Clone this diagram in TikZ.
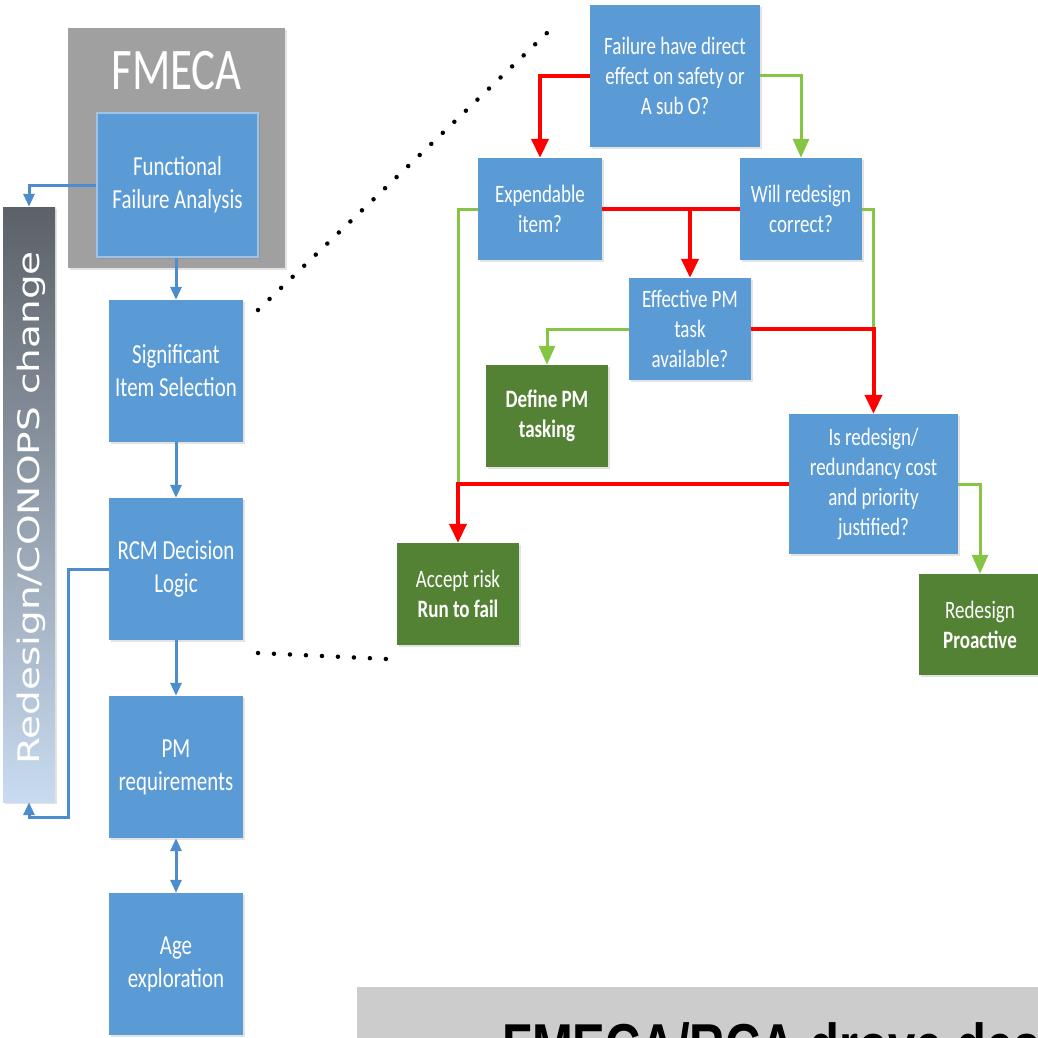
\documentclass[tikz,border=0pt]{standalone}
\usepackage{fontspec}
\usetikzlibrary{arrows.meta,shadows}
\newfontfamily\boxfont[FakeStretch=0.76]{Carlito}
\newfontfamily\barfont{DejaVu Sans}
\newfontfamily\capfont[FakeStretch=0.79]{Liberation Sans}
\definecolor{boxblue}{HTML}{5B9BD5}
\definecolor{boxedge}{HTML}{9DC3E6}
\definecolor{boxgreen}{HTML}{548235}
\definecolor{fmecagray}{HTML}{A0A0A0}
\definecolor{capgray}{HTML}{CCCCCC}
\definecolor{connblue}{HTML}{4D8DCC}
\definecolor{linered}{HTML}{FF0000}
\definecolor{linegreen}{HTML}{86C543}
\definecolor{bartop}{HTML}{5C6168}
\definecolor{barbottom}{HTML}{C8DBF0}
\begin{document}
\begin{tikzpicture}[x=1pt,y=-1pt,
  softshadow/.style={drop shadow={shadow xshift=1.5pt,shadow yshift=-2pt,opacity=0.18,fill=black!60}},
  box/.style={rectangle,inner sep=0pt,align=center,text=white,softshadow},
  leftbox/.style={box,fill=boxblue,minimum width=134pt,minimum height=142pt,
    font=\boxfont\fontsize{27.5}{33}\selectfont},
  qbox/.style={box,fill=boxblue,font=\boxfont\fontsize{25}{30}\selectfont},
  endbox/.style={box,fill=boxgreen,minimum width=122pt,minimum height=102pt,
    font=\boxfont\fontsize{25}{30}\selectfont},
  bluearr/.style={draw=connblue,line width=3pt,-{Triangle[width=11pt,length=13pt]}},
  bluedbl/.style={draw=connblue,line width=3pt,{Triangle[width=11pt,length=13pt]}-{Triangle[width=11pt,length=13pt]}},
  redline/.style={draw=linered,line width=4pt},
  redarr/.style={redline,-{Triangle[width=17pt,length=19pt]}},
  greenline/.style={draw=linegreen,line width=3pt},
  greenarr/.style={greenline,-{Triangle[width=16pt,length=19pt]}},
  dotline/.style={draw=black,line width=4.5pt,line cap=round,dash pattern=on 0pt off 16pt}]

\useasboundingbox (0,0) rectangle (1038,1038);
\clip (0,0) rectangle (1038,1038);

% ---------------- left column ----------------
\node[box,fill=fmecagray,minimum width=217pt,minimum height=240pt] (fmeca) at (176.5,148) {};
\node[anchor=base,text=white,font=\boxfont\fontsize{59}{60}\selectfont] (fmecatitle) at (176.5,90) {FMECA};
\node[leftbox,draw=boxedge,line width=1.2pt,minimum width=161pt,minimum height=144pt] (ffa) at (177.5,185)
  {Functional\\Failure Analysis};

\node[box,minimum width=52pt,minimum height=595pt,top color=bartop,bottom color=barbottom] (bar) at (29,504.5) {};
\node[rotate=90,text=white,inner sep=0pt] (bartext) at (31,508)
  {\scalebox{1}[0.76]{\barfont\fontsize{39}{40}\selectfont Redesign/CONOPS change}};

\node[leftbox] (sis) at (176,371) {Significant\\Item Selection};
\node[leftbox] (rcm) at (176,569) {RCM Decision\\Logic};
\node[leftbox] (pmr) at (176,767) {PM\\requirements};
\node[leftbox] (age) at (176,964) {Age\\exploration};

\coordinate (loopcorner) at (68,817);

\draw[bluearr] (ffa.west) -| (bar.north);
\draw[bluearr] (ffa.south -| sis.north) -- (sis.north);
\draw[bluearr] (sis.south) -- (rcm.north);
\draw[bluearr] (rcm.south) -- (pmr.north);
\draw[bluedbl] (pmr.south) -- (age.north);
\draw[bluearr] (rcm.west) -| (loopcorner) -| (bar.south);

% ---------------- decision logic ----------------
\node[qbox,minimum width=170pt,minimum height=142pt] (fail) at (675,76)
  {Failure have direct\\effect on safety or\\A sub O?};
\node[qbox,minimum width=124pt,minimum height=102pt] (exp) at (540,209) {Expendable\\item?};
\node[qbox,minimum width=122pt,minimum height=102pt] (will) at (801,209) {Will redesign\\correct?};
\node[qbox,minimum width=122pt,minimum height=102pt] (eff) at (690,329) {Effective PM\\task\\available?};
\node[qbox,minimum width=169pt,minimum height=140pt] (isr) at (873.5,484)
  {Is redesign/\\redundancy cost\\and priority\\justified?};
\node[endbox] (def) at (547,416) {\bfseries Define PM\\\bfseries tasking};
\node[endbox] (acc) at (458,594) {Accept risk\\\textbf{Run to fail}};
\node[endbox,minimum height=101pt] (rdp) at (980,624.5) {Redesign\\\textbf{Proactive}};

\coordinate (yesjoin) at (isr.north |- eff.east);
\coordinate (leftjoin) at (acc.north |- isr.west);

\draw[redarr] (fail.west) -| (exp.north);
\draw[greenarr] (fail.east) -| (will.north);
\draw[redline] (exp.east) -- (will.west);
\draw[redarr] (exp.east -| eff.north) -- (eff.north);
\draw[greenline] (will.east) -| (yesjoin);
\draw[greenline] (exp.west) -| (leftjoin);
\draw[greenarr] (eff.west) -| (def.north);
\draw[redarr] (eff.east) -| (isr.north);
\draw[redarr] (isr.west) -| (acc.north);
\draw[greenarr] (isr.east) -| (rdp.north);

% ---------------- zoom guide lines ----------------
\coordinate (zoomA1) at (258,310);
\coordinate (zoomA2) at (548,32);
\coordinate (zoomB1) at (258,653);
\coordinate (zoomB2) at (387,659);
\draw[dotline] (zoomA1) -- (zoomA2);
\draw[dotline] (zoomB1) -- (zoomB2);

% ---------------- caption strip ----------------
\node[rectangle,fill=capgray,inner sep=0pt,minimum width=700pt,minimum height=90pt,anchor=north west] (capbox) at (357,987) {};
\node[anchor=base west,inner sep=0pt,text=black,font=\capfont\bfseries\fontsize{62}{62}\selectfont] (captext) at (502,1067)
  {FMECA/RCA drove des};
\end{tikzpicture}
\end{document}
